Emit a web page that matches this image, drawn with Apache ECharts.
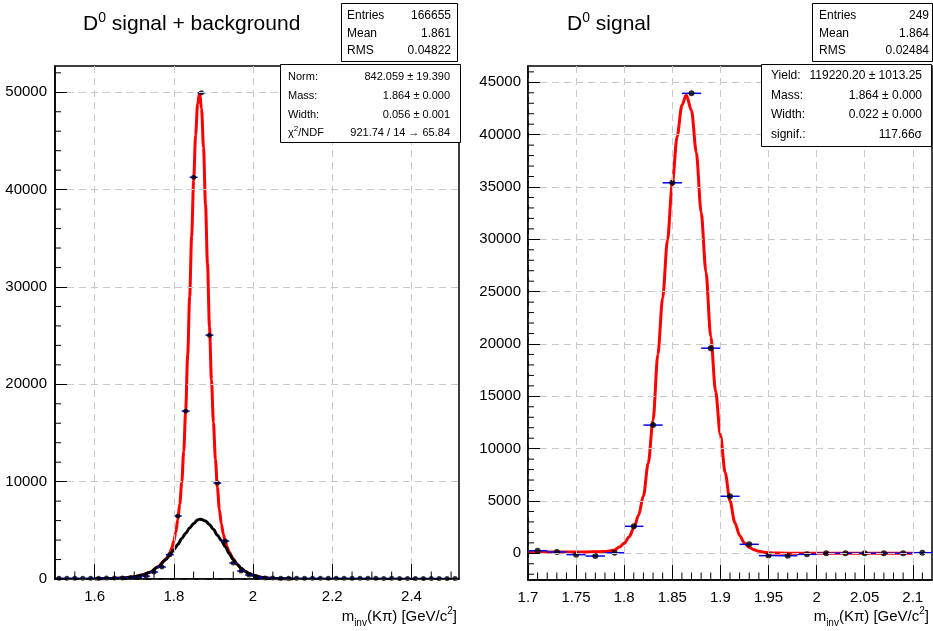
<!DOCTYPE html>
<html><head><meta charset="utf-8">
<script src="https://cdn.jsdelivr.net/npm/echarts@6/dist/echarts.min.js"></script>
<style>html,body{margin:0;padding:0;background:#fff}#c{width:933px;height:631px}</style>
</head><body><div id="c"></div>
<script>
const FONT = '"Liberation Sans", Arial, Helvetica, sans-serif';

// ---------- Left panel: D0 signal + background ----------
const leftBins = [1.51,1.53,1.55,1.57,1.59,1.61,1.63,1.65,1.67,1.69,1.71,1.73,1.75,1.77,1.79,1.81,1.83,1.85,1.87,1.89,1.91,1.93,1.95,1.97,1.99,2.01,2.03,2.05,2.07,2.09,2.11,2.13,2.15,2.17,2.19,2.21,2.23,2.25,2.27,2.29,2.31,2.33,2.35,2.37,2.39,2.41,2.43,2.45,2.47,2.49,2.51];
const leftCounts = [80,75,80,70,80,85,90,95,110,130,170,290,720,1230,2500,6470,17250,41270,49950,25050,9860,3900,1640,820,410,180,110,90,85,80,80,75,80,75,70,75,70,70,65,70,65,60,65,60,60,55,60,55,55,50,50];
const leftFitX = [1.60,1.64,1.68,1.70,1.72,1.74,1.76,1.775,1.78,1.785,1.79,1.795,1.80,1.805,1.81,1.815,1.82,1.825,1.83,1.835,1.84,1.845,1.85,1.855,1.86,1.865,1.87,1.875,1.88,1.885,1.89,1.895,1.90,1.905,1.91,1.915,1.92,1.925,1.93,1.935,1.94,1.95,1.96,1.97,1.98,1.99,2.00,2.02,2.04,2.07,2.10];
const leftFitTotal = [10,40,130,220,400,700,1250,1850,2050,2350,2700,3200,3900,4800,6100,7700,9900,13100,17400,23000,29000,35200,40900,45600,48800,49950,48300,44300,38500,32400,25900,20500,16100,12300,9400,7150,5650,4600,3850,3250,2750,2050,1520,1110,790,565,385,185,82,25,5];
const leftBkgX = [1.60,1.64,1.68,1.70,1.72,1.74,1.76,1.78,1.79,1.80,1.81,1.82,1.83,1.84,1.85,1.86,1.865,1.87,1.88,1.89,1.90,1.91,1.92,1.93,1.94,1.95,1.96,1.97,1.98,1.99,2.00,2.02,2.04,2.07,2.10];
const leftBkg = [10,40,130,220,400,700,1230,2000,2480,3000,3550,4150,4700,5250,5700,6050,6150,6120,5950,5600,5100,4500,3950,3300,2600,2000,1500,1100,780,560,380,180,80,25,5];
const leftXMajor = [1.6,1.8,2.0,2.2,2.4];
const leftXMinor = [1.55,1.65,1.70,1.75,1.85,1.90,1.95,2.05,2.10,2.15,2.25,2.30,2.35,2.45,2.50];
const leftYMajor = [0,10000,20000,30000,40000,50000];
const leftYMinor = [2000,4000,6000,8000,12000,14000,16000,18000,22000,24000,26000,28000,32000,34000,36000,38000,42000,44000,46000,48000,52000];

// ---------- Right panel: D0 signal ----------
const rightBins = [1.71,1.73,1.75,1.77,1.79,1.81,1.83,1.85,1.87,1.89,1.91,1.93,1.95,1.97,1.99,2.01,2.03,2.05,2.07,2.09,2.11];
const rightCounts = [250,130,-130,-260,50,2580,12250,35400,43950,19600,5450,860,-220,-230,-100,0,10,10,5,5,60];
const rightFitX = [1.70,1.72,1.74,1.76,1.775,1.78,1.785,1.79,1.795,1.80,1.805,1.81,1.815,1.82,1.825,1.83,1.835,1.84,1.845,1.85,1.855,1.86,1.8645,1.87,1.875,1.88,1.885,1.89,1.895,1.90,1.905,1.91,1.915,1.92,1.925,1.93,1.935,1.94,1.945,1.95,1.96,1.98,2.00,2.05,2.10];
const rightFitY = [120,120,120,130,150,180,230,320,600,960,1550,2400,3650,5500,8600,12700,19000,24400,29900,35300,39800,42800,43800,42300,38300,32600,26900,20700,15500,11300,7700,5000,2950,1700,980,560,330,200,110,50,20,10,10,10,10];
const rightXMajor = [1.70,1.75,1.80,1.85,1.90,1.95,2.00,2.05,2.10];
const rightXMinor = [1.71,1.72,1.73,1.74,1.76,1.77,1.78,1.79,1.81,1.82,1.83,1.84,1.86,1.87,1.88,1.89,1.91,1.92,1.93,1.94,1.96,1.97,1.98,1.99,2.01,2.02,2.03,2.04,2.06,2.07,2.08,2.09,2.11];
const rightYMajor = [0,5000,10000,15000,20000,25000,30000,35000,40000,45000];
const rightYMinor = [-2000,-1000,1000,2000,3000,4000,6000,7000,8000,9000,11000,12000,13000,14000,16000,17000,18000,19000,21000,22000,23000,24000,26000,27000,28000,29000,31000,32000,33000,34000,36000,37000,38000,39000,41000,42000,43000,44000,46000];

// axis ranges
const L = { xMin: 1.5, xMax: 2.52, yMin: 0, yMax: 52700 };
const R = { xMin: 1.7, xMax: 2.12, yMin: -2550, yMax: 46560 };

const binHalf = 0.01;
const zip = (a, b) => a.map((v, i) => [v, b[i]]);
const fmtX = v => String(parseFloat(Number(v).toFixed(3)));
const fmtY = v => String(Math.round(v));

function mainAxis(kind, gridIndex, min, max, major, tickLen, fmt, margin) {
  return {
    type: 'value', gridIndex, min, max,
    position: kind === 'x' ? 'bottom' : 'left',
    axisLine: { show: true, onZero: false, lineStyle: { color: '#000', width: 1.5 } },
    axisTick: { show: true, inside: true, length: tickLen, customValues: major, lineStyle: { color: '#000', width: 1 } },
    axisLabel: { show: true, customValues: major, formatter: fmt, fontSize: 15, fontFamily: FONT, color: '#000', margin: margin },
    splitLine: { show: true, lineStyle: { type: [7, 5], color: '#c8c8c8', width: 1 } },
    z: 10
  };
}
function errBars(params, api) {
  const x = api.value(0), y = api.value(1);
  const p1 = api.coord([x - binHalf, y]);
  const p2 = api.coord([x + binHalf, y]);
  return { type: 'line', shape: { x1: p1[0], y1: p1[1], x2: p2[0], y2: p2[1] },
           style: { stroke: '#0000ff', lineWidth: 1.5 } };
}
// minor ticks drawn through the axis scale (inside the frame)
function xMinorTick(len) {
  return function (params, api) {
    const p = api.coord([api.value(0), api.value(1)]);
    return { type: 'line', shape: { x1: p[0], y1: p[1], x2: p[0], y2: p[1] - len }, style: { stroke: '#000', lineWidth: 1 } };
  };
}
function yMinorTick(len) {
  return function (params, api) {
    const p = api.coord([api.value(0), api.value(1)]);
    return { type: 'line', shape: { x1: p[0], y1: p[1], x2: p[0] + len, y2: p[1] }, style: { stroke: '#000', lineWidth: 1 } };
  };
}

const chart = echarts.init(document.getElementById('c'), null, { renderer: 'canvas' });

function txt(x, y, text, size, align, extra) {
  return {
    type: 'text', x, y, z: 101,
    style: Object.assign({ text, fontSize: size, fontFamily: FONT, fill: '#000', align, verticalAlign: 'middle' }, extra || {})
  };
}
function box(x, y, w, h) {
  return { type: 'rect', z: 100, shape: { x, y, width: w, height: h }, style: { fill: '#fff', stroke: '#000', lineWidth: 1 } };
}
const titleRich = { sup: { fontSize: 14, lineHeight: 14, verticalAlign: 'top', fontFamily: FONT } };
const axisRich = {
  sub: { fontSize: 10, lineHeight: 11, verticalAlign: 'bottom', fontFamily: FONT },
  sup: { fontSize: 10, lineHeight: 11, verticalAlign: 'top', fontFamily: FONT }
};
const axisTitle = 'm{sub|inv}(Kπ) [GeV/c{sup|2}]';

const graphic = [
  txt(83, 24, 'D{sup|0} signal + background', 21, 'left', { lineHeight: 26, rich: titleRich }),
  txt(567, 24, 'D{sup|0} signal', 21, 'left', { lineHeight: 26, rich: titleRich }),
  txt(457, 617, axisTitle, 15, 'right', { lineHeight: 22, rich: axisRich }),
  txt(929, 617, axisTitle, 15, 'right', { lineHeight: 22, rich: axisRich }),
  box(341.5, 3.5, 116, 58),
  txt(347, 16, 'Entries', 12, 'left'), txt(451, 16, '166655', 12, 'right'),
  txt(347, 33.5, 'Mean', 12, 'left'), txt(451, 33.5, '1.861', 12, 'right'),
  txt(347, 50.5, 'RMS', 12, 'left'), txt(451, 50.5, '0.04822', 12, 'right'),
  box(280.5, 64.5, 180, 78),
  txt(288, 77, 'Norm:', 11, 'left'), txt(450, 77, '842.059 ± 19.390', 11, 'right'),
  txt(288, 96, 'Mass:', 11, 'left'), txt(450, 96, '1.864 ± 0.000', 11, 'right'),
  txt(288, 115, 'Width:', 11, 'left'), txt(450, 115, '0.056 ± 0.001', 11, 'right'),
  txt(288, 133, 'χ{sup|2}/NDF', 11, 'left', { lineHeight: 16, rich: { sup: { fontSize: 8, lineHeight: 9, verticalAlign: 'top', fontFamily: FONT } } }),
  txt(450, 133, '921.74 / 14 → 65.84', 11, 'right'),
  box(812.5, 3.5, 120, 58),
  txt(819, 16, 'Entries', 12, 'left'), txt(929, 16, '249', 12, 'right'),
  txt(819, 33.5, 'Mean', 12, 'left'), txt(929, 33.5, '1.864', 12, 'right'),
  txt(819, 50.5, 'RMS', 12, 'left'), txt(929, 50.5, '0.02484', 12, 'right'),
  box(761.5, 64.5, 170, 82),
  txt(771, 76, 'Yield:', 12, 'left'), txt(922, 76, '119220.20 ± 1013.25', 12, 'right'),
  txt(771, 95.5, 'Mass:', 12, 'left'), txt(922, 95.5, '1.864 ± 0.000', 12, 'right'),
  txt(771, 114.5, 'Width:', 12, 'left'), txt(922, 114.5, '0.022 ± 0.000', 12, 'right'),
  txt(771, 135, 'signif.:', 12, 'left'), txt(922, 135, '117.66σ', 12, 'right')
];

const option = {
  animation: false,
  backgroundColor: '#fff',
  grid: [
    { left: 55, top: 66, width: 404, height: 513, show: true, borderColor: '#000', borderWidth: 1.5, backgroundColor: 'transparent', containLabel: false },
    { left: 528, top: 66, width: 404, height: 514, show: true, borderColor: '#000', borderWidth: 1.5, backgroundColor: 'transparent', containLabel: false }
  ],
  xAxis: [
    mainAxis('x', 0, L.xMin, L.xMax, leftXMajor, 15, fmtX, 10),
    mainAxis('x', 1, R.xMin, R.xMax, rightXMajor, 15, fmtX, 10)
  ],
  yAxis: [
    mainAxis('y', 0, L.yMin, L.yMax, leftYMajor, 12, fmtY, 8),
    mainAxis('y', 1, R.yMin, R.yMax, rightYMajor, 12, fmtY, 7)
  ],
  graphic: graphic,
  series: [
    // minor ticks
    { type: 'custom', xAxisIndex: 0, yAxisIndex: 0, silent: true, z: 11, renderItem: xMinorTick(7.5),
      data: leftXMinor.map(v => [v, L.yMin]) },
    { type: 'custom', xAxisIndex: 0, yAxisIndex: 0, silent: true, z: 11, renderItem: yMinorTick(6),
      data: leftYMinor.map(v => [L.xMin, v]) },
    { type: 'custom', xAxisIndex: 1, yAxisIndex: 1, silent: true, z: 11, renderItem: xMinorTick(7.5),
      data: rightXMinor.map(v => [v, R.yMin]) },
    { type: 'custom', xAxisIndex: 1, yAxisIndex: 1, silent: true, z: 11, renderItem: yMinorTick(6),
      data: rightYMinor.map(v => [R.xMin, v]) },
    // left panel
    { type: 'line', xAxisIndex: 0, yAxisIndex: 0, data: zip(leftFitX, leftFitTotal), showSymbol: false,
      smooth: 0.3, smoothMonotone: 'x', lineStyle: { color: '#ff0000', width: 3 }, z: 3 },
    { type: 'line', xAxisIndex: 0, yAxisIndex: 0, data: zip(leftBkgX, leftBkg), showSymbol: false,
      smooth: 0.3, smoothMonotone: 'x', lineStyle: { color: '#000000', width: 3 }, z: 4 },
    { type: 'custom', xAxisIndex: 0, yAxisIndex: 0, data: zip(leftBins, leftCounts), renderItem: errBars, z: 5 },
    { type: 'scatter', xAxisIndex: 0, yAxisIndex: 0, data: zip(leftBins, leftCounts), symbol: 'circle', symbolSize: 5,
      itemStyle: { color: '#000' }, z: 6 },
    // right panel
    { type: 'line', xAxisIndex: 1, yAxisIndex: 1, data: zip(rightFitX, rightFitY), showSymbol: false,
      smooth: 0.3, smoothMonotone: 'x', lineStyle: { color: '#ff0000', width: 3 }, z: 3 },
    { type: 'custom', xAxisIndex: 1, yAxisIndex: 1, data: zip(rightBins, rightCounts), renderItem: errBars, z: 5 },
    { type: 'scatter', xAxisIndex: 1, yAxisIndex: 1, data: zip(rightBins, rightCounts), symbol: 'circle', symbolSize: 6,
      itemStyle: { color: '#000' }, z: 6 }
  ]
};
chart.setOption(option);
</script>
</body></html>
